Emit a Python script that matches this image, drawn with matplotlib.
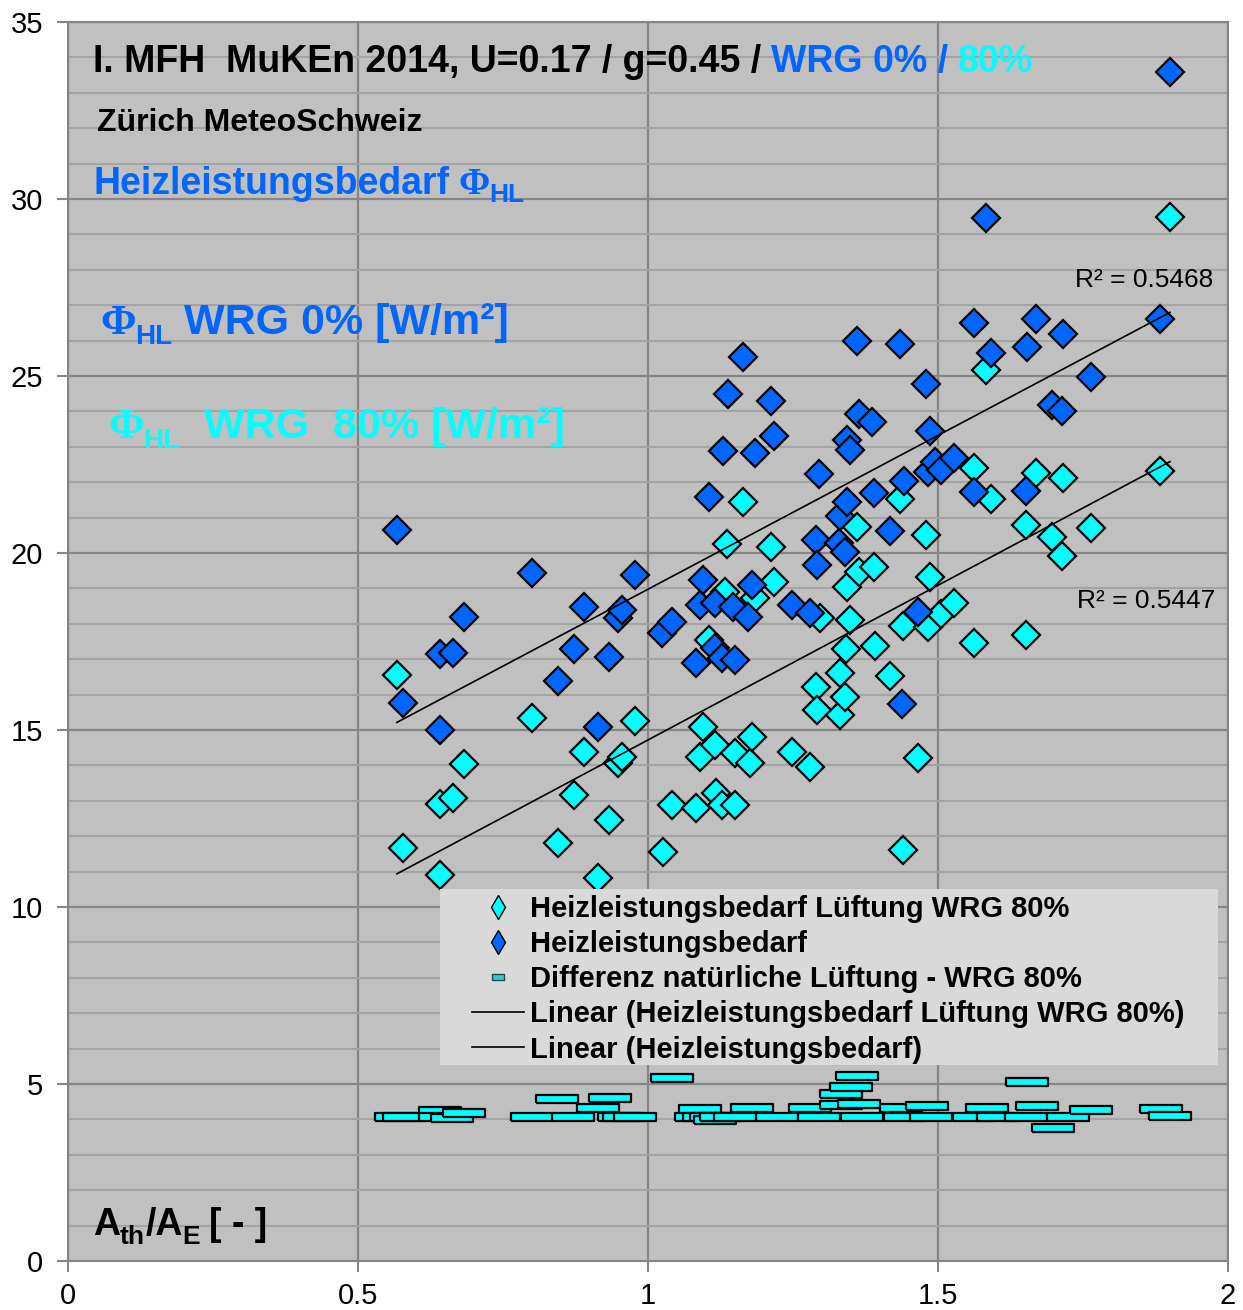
import numpy as np
import matplotlib
matplotlib.use('Agg')
import matplotlib.pyplot as plt
from matplotlib.lines import Line2D
from matplotlib.patches import Rectangle
from matplotlib.path import Path
from matplotlib.transforms import IdentityTransform
from matplotlib.ticker import MultipleLocator

plt.rcParams['font.family'] = ['Liberation Sans', 'DejaVu Sans']

# Heizleistungsbedarf ohne WRG
x_hl = [0.567, 0.578, 0.641, 0.664, 0.682, 0.641, 0.800, 0.844, 0.872, 0.890,
        0.914, 0.933, 0.949, 0.955, 0.978, 1.024, 1.041, 1.083, 1.090, 1.095,
        1.106, 1.116, 1.116, 1.127, 1.130, 1.138, 1.147, 1.150, 1.163, 1.173,
        1.179, 1.184, 1.212, 1.218, 1.248, 1.279, 1.290, 1.291, 1.295, 1.330,
        1.331, 1.340, 1.343, 1.343, 1.349, 1.360, 1.363, 1.387, 1.390, 1.417,
        1.434, 1.438, 1.441, 1.466, 1.480, 1.482, 1.487, 1.495, 1.506, 1.528,
        1.562, 1.562, 1.583, 1.591, 1.652, 1.653, 1.669, 1.697, 1.713, 1.716,
        1.763, 1.883, 1.900]
y_hl = [20.65, 15.77, 17.15, 17.18, 18.20, 15.00, 19.43, 16.38, 17.28, 18.47,
        15.09, 17.07, 18.15, 18.39, 19.38, 17.73, 18.05, 16.88, 18.53, 19.24,
        21.57, 18.59, 17.31, 17.03, 22.89, 24.49, 18.48, 16.98, 25.55, 18.20,
        19.10, 22.82, 24.28, 23.30, 18.53, 18.30, 20.37, 19.66, 22.24, 20.27,
        21.05, 20.04, 21.43, 23.19, 22.91, 25.99, 23.92, 23.69, 21.69, 20.63,
        25.90, 15.73, 22.04, 18.34, 24.77, 22.28, 23.46, 22.58, 22.34, 22.68,
        26.49, 21.71, 29.46, 25.64, 21.76, 25.83, 26.60, 24.18, 24.01, 26.20,
        24.98, 26.60, 33.60]

# Heizleistungsbedarf mit Lueftung WRG 80%
x_wrg = [0.567, 0.578, 0.641, 0.664, 0.682, 0.641, 0.800, 0.844, 0.872, 0.890,
         0.914, 0.933, 0.949, 0.955, 0.978, 1.025, 1.041, 1.083, 1.090, 1.095,
         1.106, 1.116, 1.118, 1.127, 1.133, 1.137, 1.150, 1.150, 1.163, 1.176,
         1.179, 1.184, 1.212, 1.218, 1.248, 1.279, 1.290, 1.291, 1.297, 1.331,
         1.331, 1.340, 1.341, 1.343, 1.348, 1.361, 1.363, 1.389, 1.391, 1.417,
         1.434, 1.439, 1.440, 1.466, 1.479, 1.483, 1.486, 1.506, 1.528, 1.562,
         1.562, 1.583, 1.591, 1.652, 1.652, 1.669, 1.697, 1.713, 1.716, 1.763,
         1.883, 1.900]
y_wrg = [16.55, 11.68, 12.91, 13.07, 14.03, 10.90, 15.33, 11.80, 13.16, 14.37,
         10.83, 12.46, 14.06, 14.23, 15.26, 11.56, 12.88, 12.79, 14.25, 15.09,
         17.54, 14.58, 13.21, 12.88, 18.91, 20.25, 14.34, 12.88, 21.43, 14.06,
         14.81, 18.72, 20.18, 19.19, 14.39, 13.96, 16.22, 15.56, 18.15, 16.62,
         15.42, 15.94, 17.28, 19.05, 18.10, 20.74, 19.47, 19.61, 17.37, 16.53,
         21.53, 11.61, 17.95, 14.20, 20.51, 17.92, 19.33, 18.29, 18.58, 22.39,
         17.45, 25.17, 21.52, 20.79, 17.68, 22.27, 20.44, 19.92, 22.11, 20.72,
         22.32, 29.50]

# Differenz natuerliche Lueftung - WRG 80%
x_diff = [0.566, 0.579, 0.641, 0.641, 0.662, 0.683, 0.800, 0.843, 0.871, 0.914,
          0.934, 0.950, 0.959, 0.978, 1.041, 1.083, 1.090, 1.097, 1.108, 1.116,
          1.126, 1.150, 1.179, 1.222, 1.279, 1.295, 1.333, 1.333, 1.350, 1.360,
          1.364, 1.369, 1.436, 1.443, 1.481, 1.488, 1.562, 1.584, 1.603, 1.652,
          1.653, 1.671, 1.698, 1.724, 1.763, 1.884, 1.900]
y_diff = [4.08, 4.08, 4.25, 4.08, 4.03, 4.17, 4.08, 4.57, 4.08, 4.31,
          4.61, 4.08, 4.08, 4.08, 5.16, 4.08, 4.28, 4.08, 4.08, 3.98,
          4.08, 4.08, 4.31, 4.08, 4.31, 4.08, 4.41, 4.72, 4.92, 5.22,
          4.44, 4.08, 4.31, 4.08, 4.37, 4.08, 4.08, 4.31, 4.08, 4.08,
          5.05, 4.37, 3.75, 4.08, 4.27, 4.30, 4.10]

labels = ['Heizleistungsbedarf Lüftung WRG 80%', 'Heizleistungsbedarf',
          'Differenz natürliche Lüftung - WRG 80%',
          'Linear (Heizleistungsbedarf Lüftung WRG 80%)',
          'Linear (Heizleistungsbedarf)']
r2_labels = ['R² = 0.5468', 'R² = 0.5447']

BLUE = '#0066FF'
CYAN = '#00FFFF'

fig = plt.figure(figsize=(12.43, 13.10), dpi=100)
ax = fig.add_axes([68 / 1243, 1 - 1261 / 1310, 1160 / 1243, 1239 / 1310])
ax.set_facecolor('#C0C0C0')
ax.set_xlim(0, 2)
ax.set_ylim(0, 35)
ax.set_xticks([0, 0.5, 1, 1.5, 2])
ax.set_xticklabels(['0', '0.5', '1', '1.5', '2'])
ax.set_yticks(range(0, 36, 5))
ax.yaxis.set_minor_locator(MultipleLocator(1))
ax.grid(which='major', color='#868686', lw=1.6)
ax.grid(which='minor', axis='y', color='#A4A4A4', lw=1.5)
ax.set_axisbelow(True)
ax.tick_params(which='major', labelsize=21, length=8, width=1.5, color='#868686')
ax.tick_params(axis='y', pad=10)
ax.tick_params(axis='x', pad=7)
ax.tick_params(which='minor', length=0)
for sp in ax.spines.values():
    sp.set_color('#868686')
    sp.set_linewidth(1.5)

# Messpunkte
ax.plot(x_wrg, y_wrg, 'D', ms=14.5, mfc=CYAN, mec='black', mew=1.6, zorder=2.5)
ax.plot(x_hl, y_hl, 'D', ms=14.5, mfc=BLUE, mec='black', mew=1.6, zorder=2.6)

rect = Path([(-1, -0.19), (1, -0.19), (1, 0.19), (-1, 0.19), (-1, -0.19)])
ax.plot(x_diff, y_diff, ls='none', marker=rect, ms=30, mfc=CYAN, mec='black', mew=1.6, zorder=2.7)

# lineare Trends
for xs, ys in [(x_wrg, y_wrg), (x_hl, y_hl)]:
    k, d = np.polyfit(xs, ys, 1)
    xx = np.array([min(xs), max(xs)])
    ax.plot(xx, k * xx + d, color='black', lw=1.2, zorder=3)

ax.text(1.974, 27.51, r2_labels[0], fontsize=19, ha='right', va='baseline')
ax.text(1.978, 18.45, r2_labels[1], fontsize=19, ha='right', va='baseline')

# Legende
ax.add_patch(Rectangle((0.3207, 0.1582), 0.6707, 0.1420, transform=ax.transAxes,
                       facecolor='#D9D9D9', edgecolor='none', zorder=4))
rect_small = Path([(-1, -0.45), (1, -0.45), (1, 0.45), (-1, 0.45), (-1, -0.45)])
handles = [
    Line2D([], [], ls='none', marker='d', ms=12, mfc=CYAN, mec='black', mew=1),
    Line2D([], [], ls='none', marker='d', ms=12, mfc=BLUE, mec='black', mew=1),
    Line2D([], [], ls='none', marker=rect_small, ms=9, mfc='#33CCCC', mec='#1a4d4d', mew=1),
    Line2D([], [], color='black', lw=1.2),
    Line2D([], [], color='black', lw=1.2),
]
leg = ax.legend(handles, labels, loc='upper left', bbox_to_anchor=(0.3483, 0.2954),
                frameon=False, borderpad=0, borderaxespad=0, handlelength=1.78,
                handletextpad=0.2, labelspacing=0.245,
                prop={'size': 21, 'weight': 'bold'})
leg.set_zorder(5)

# Beschriftung im Diagramm
rend = fig.canvas.get_renderer()
H = 1310


def runs(x, y, parts):
    for s, size, color, fam, dy, gap in parts:
        t = fig.text(x + gap, H - y + dy, s, transform=IdentityTransform(),
                     fontsize=size, color=color, family=fam, weight='bold',
                     ha='left', va='baseline', zorder=6)
        x = x + gap + t.get_window_extent(rend).width


sans = 'Liberation Sans'
serif = 'Liberation Serif'
runs(93, 72, [('I. MFH  MuKEn 2014, U=0.17 / g=0.45 /', 27, 'black', sans, 0, 0),
              ('WRG 0% /', 27, BLUE, sans, 0, 10),
              ('80%', 27, CYAN, sans, 0, 10)])
runs(97, 131, [('Zürich MeteoSchweiz', 23, 'black', sans, 0, 0)])
runs(93, 194, [('Heizleistungsbedarf', 27, BLUE, sans, 0, 0),
               ('Φ', 27, BLUE, serif, 0, 9),
               ('HL', 19, BLUE, sans, -8, 0)])
runs(100, 334, [('Φ', 31, BLUE, serif, 0, 0),
                ('HL', 20, BLUE, sans, -10, 0),
                ('WRG 0% [W/m²]', 31, BLUE, sans, 0, 11)])
runs(108, 438, [('Φ', 31, CYAN, serif, 0, 0),
                ('HL', 20, CYAN, sans, -10, 0),
                ('WRG  80% [W/m²]', 31, CYAN, sans, 0, 23)])
runs(93, 1235, [('A', 27, 'black', sans, 0, 0),
                ('th', 19, 'black', sans, -9, 0),
                ('/A', 27, 'black', sans, 0, 0),
                ('E', 19, 'black', sans, -9, 0),
                ('[ - ]', 27, 'black', sans, 0, 9)])

fig.savefig('out.png', dpi=100)
